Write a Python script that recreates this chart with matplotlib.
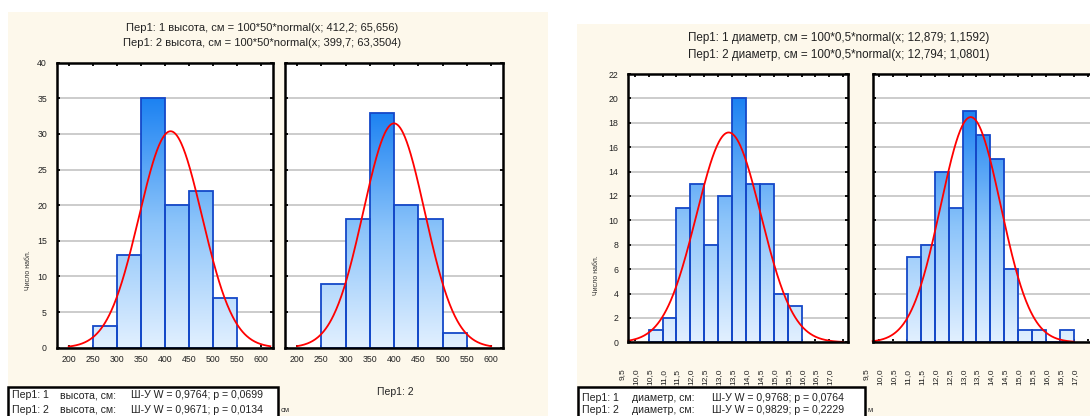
import numpy as np
import matplotlib
matplotlib.use("Agg")
import matplotlib.pyplot as plt
from matplotlib.patches import Rectangle, PathPatch
from matplotlib.path import Path
from matplotlib.colors import LinearSegmentedColormap
from matplotlib.transforms import ScaledTranslation

plt.rcParams['font.family'] = ['Liberation Sans', 'DejaVu Sans']

# --- data ---
h_edges = [250, 300, 350, 400, 450, 500, 550]
h_cnt1 = [3, 13, 35, 20, 22, 7]
h_cnt2 = [9, 18, 33, 20, 18, 2]
h_fit1 = (412.2, 65.656)
h_fit2 = (399.7, 63.3504)
h_ticks = [200, 250, 300, 350, 400, 450, 500, 550, 600]

d_edges1 = [10.0, 10.5, 11.0, 11.5, 12.0, 12.5, 13.0, 13.5, 14.0, 14.5, 15.0, 15.5]
d_cnt1 = [1, 2, 11, 13, 8, 12, 20, 13, 13, 4, 3]
d_edges2 = [10.5, 11.0, 11.5, 12.0, 12.5, 13.0, 13.5, 14.0, 14.5, 15.0, 15.5, 16.0, 16.5]
d_cnt2 = [7, 8, 14, 11, 19, 17, 15, 6, 1, 1, 0, 1]
d_fit1 = (12.879, 1.1592)
d_fit2 = (12.794, 1.0801)
d_ticks = [9.5, 10.0, 10.5, 11.0, 11.5, 12.0, 12.5, 13.0, 13.5, 14.0, 14.5, 15.0, 15.5, 16.0, 16.5, 17.0]

n_obs = 100

W, H = 1090, 416
fig = plt.figure(figsize=(W / 100, H / 100), dpi=100)
fig.patch.set_facecolor('white')

def frect(x0, y0, x1, y1):
    return [x0 / W, 1 - y1 / H, (x1 - x0) / W, (y1 - y0) / H]

cream = '#FDF8EB'
for r in [frect(8, 12, 548, 416), frect(577, 24, 1090, 416)]:
    fig.add_artist(Rectangle((r[0], r[1]), r[2], r[3], transform=fig.transFigure,
                             facecolor=cream, edgecolor='none', zorder=-5))

cmap = LinearSegmentedColormap.from_list('bars', ['#E2F0FF', '#8CC4FA', '#1C82F2'])

def hist_panel(rect, edges, counts, fit, binw, xlim, ylim, yticks, xticks,
               curve_rng, show_y=True):
    ax = fig.add_axes(rect)
    ax.set_facecolor('white')
    edges = np.array(edges, dtype=float)
    counts = np.array(counts, dtype=float)
    # gradient fill clipped to the bars
    verts = []
    for x0, x1, c in zip(edges[:-1], edges[1:], counts):
        if c > 0:
            verts.append(Path([(x0, 0), (x1, 0), (x1, c), (x0, c), (x0, 0)], closed=True))
    comp = Path.make_compound_path(*verts)
    top = counts.max()
    grad = np.linspace(0, 1, 256).reshape(-1, 1)
    im = ax.imshow(grad, cmap=cmap, origin='lower', aspect='auto',
                   extent=(edges[0], edges[-1], 0, top), zorder=2)
    clip = PathPatch(comp, transform=ax.transData, facecolor='none', edgecolor='none')
    ax.add_patch(clip)
    im.set_clip_path(clip)
    ax.bar(edges[:-1], counts, width=np.diff(edges), align='edge', fill=False,
           edgecolor='#1448C8', linewidth=1.3, zorder=3)
    # fitted normal curve from title parameters
    mu, sd = fit
    xs = np.linspace(curve_rng[0], curve_rng[1], 300)
    ys = n_obs * binw * np.exp(-0.5 * ((xs - mu) / sd) ** 2) / (sd * np.sqrt(2 * np.pi))
    ax.plot(xs, ys, color='#FF0000', linewidth=1.3, zorder=4, clip_on=False)
    ax.set_xlim(*xlim)
    ax.set_ylim(*ylim)
    ax.set_yticks(yticks)
    ax.set_xticks(xticks)
    ax.yaxis.grid(True, color='#CCCCCC', linewidth=1.4, zorder=1)
    ax.set_axisbelow(True)
    for s in ax.spines.values():
        s.set_linewidth(1.8)
        s.set_color('black')
        s.set_zorder(5)
    ax.tick_params(direction='in', length=2.5, width=1.3, top=True, right=True,
                   labelsize=6.3, colors='black', labelcolor='#222222')
    if not show_y:
        ax.tick_params(labelleft=False)
    return ax

# left chart: height
hy = [0, 5, 10, 15, 20, 25, 30, 35, 40]
a1 = hist_panel(frect(56.7, 62.7, 272.7, 347.7), h_edges, h_cnt1, h_fit1, 50,
                (175, 625), (0, 40), hy, h_ticks, (200, 620))
a2 = hist_panel(frect(285, 62.7, 503.3, 347.7), h_edges, h_cnt2, h_fit2, 50,
                (175, 625), (0, 40), hy, h_ticks, (200, 600), show_y=False)
for ax in (a1, a2):
    ax.set_xticklabels([str(t) for t in h_ticks])
    ax.tick_params(axis='x', pad=5)
    ax.tick_params(axis='y', pad=7)

# right chart: diameter
dy = list(range(0, 23, 2))
b1 = hist_panel(frect(628.3, 74, 848.3, 342.3), d_edges1, d_cnt1, d_fit1, 0.5,
                (9.27, 17.18), (0, 22), dy, d_ticks, (9.27, 17.0))
b2 = hist_panel(frect(872.7, 74, 1092.7, 342.3), d_edges2, d_cnt2, d_fit2, 0.5,
                (9.27, 17.18), (0, 22), dy, d_ticks, (9.27, 16.5), show_y=False)
shift = ScaledTranslation(-13 / 100, 0, fig.dpi_scale_trans)
for ax in (b1, b2):
    ax.set_xticklabels([('%.1f' % t).replace('.', ',') for t in d_ticks],
                       rotation=90, fontsize=6)
    ax.tick_params(axis='x', pad=19)
    ax.tick_params(axis='y', pad=7)
    for lab in ax.get_xticklabels():
        lab.set_transform(lab.get_transform() + shift)

# titles
fig.text(262 / W, 1 - 28 / H, 'Пер1: 1 высота, см = 100*50*normal(x; 412,2; 65,656)',
         ha='center', va='center', fontsize=8, color='#222222')
fig.text(262 / W, 1 - 43 / H, 'Пер1: 2 высота, см = 100*50*normal(x; 399,7; 63,3504)',
         ha='center', va='center', fontsize=8, color='#222222')
fig.text(839 / W, 1 - 38 / H, 'Пер1: 1 диаметр, см = 100*0,5*normal(x; 12,879; 1,1592)',
         ha='center', va='center', fontsize=8.4, color='#222222')
fig.text(839 / W, 1 - 55 / H, 'Пер1: 2 диаметр, см = 100*0,5*normal(x; 12,794; 1,0801)',
         ha='center', va='center', fontsize=8.4, color='#222222')

# y labels
fig.text(28 / W, 1 - 270 / H, 'Число набл.', rotation=90, ha='center', va='center',
         fontsize=5, color='#333333')
fig.text(597 / W, 1 - 275 / H, 'Число набл.', rotation=90, ha='center', va='center',
         fontsize=5, color='#333333')

# subplot caption
fig.text(395 / W, 1 - 392 / H, 'Пер1: 2', ha='center', va='center', fontsize=7.5,
         color='#222222')

# Shapiro-Wilk boxes
for r in [frect(8, 387, 278, 420), frect(578, 387, 865, 420)]:
    fig.add_artist(Rectangle((r[0], r[1]), r[2], r[3], transform=fig.transFigure,
                             facecolor='white', edgecolor='black', linewidth=1.8,
                             zorder=6, clip_on=False))
fl = 7.6
rows_l = [('Пер1: 1', 'высота, см:', 'Ш-У W = 0,9764; p = 0,0699', 395),
          ('Пер1: 2', 'высота, см:', 'Ш-У W = 0,9671; p = 0,0134', 410)]
for a, b, c, y in rows_l:
    fig.text(12 / W, 1 - y / H, a, va='center', fontsize=fl, color='#222222', zorder=7)
    fig.text(60 / W, 1 - y / H, b, va='center', fontsize=fl, color='#222222', zorder=7)
    fig.text(131 / W, 1 - y / H, c, va='center', fontsize=fl, color='#222222', zorder=7)
rows_r = [('Пер1: 1', 'диаметр, см:', 'Ш-У W = 0,9768; p = 0,0764', 398),
          ('Пер1: 2', 'диаметр, см:', 'Ш-У W = 0,9829; p = 0,2229', 410)]
for a, b, c, y in rows_r:
    fig.text(582 / W, 1 - y / H, a, va='center', fontsize=fl, color='#222222', zorder=7)
    fig.text(632 / W, 1 - y / H, b, va='center', fontsize=fl, color='#222222', zorder=7)
    fig.text(712 / W, 1 - y / H, c, va='center', fontsize=fl, color='#222222', zorder=7)
fig.text(281 / W, 1 - 410 / H, 'см', va='center', fontsize=5.5, color='#333333')
fig.text(868 / W, 1 - 410 / H, 'м', va='center', fontsize=5.5, color='#333333')

fig.savefig('out.png', dpi=100, facecolor='white')
